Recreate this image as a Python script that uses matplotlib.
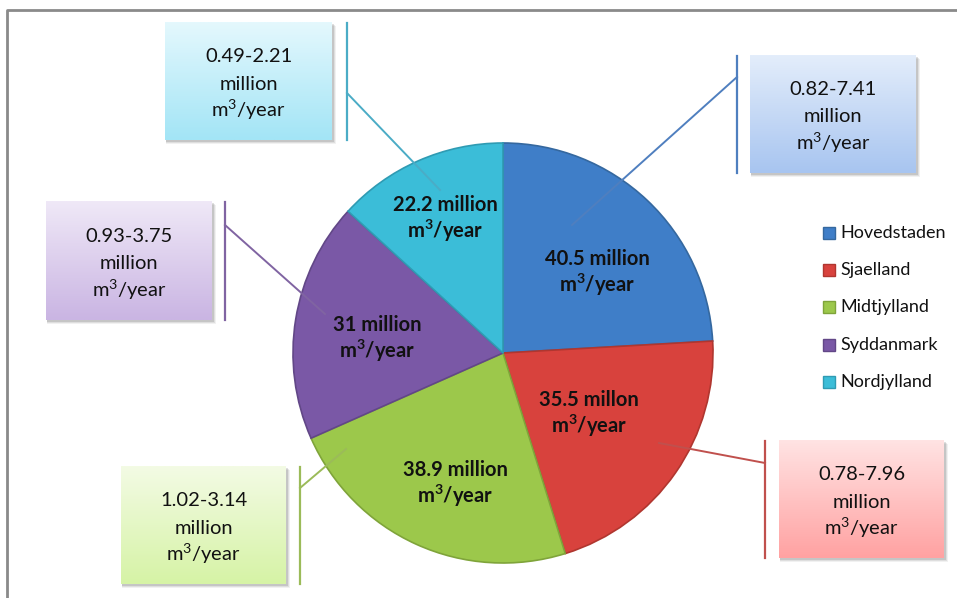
import matplotlib.pyplot as plt
import numpy as np
from matplotlib.colors import LinearSegmentedColormap
from matplotlib.patches import Rectangle

plt.rcParams["font.family"] = ["Lato", "DejaVu Sans"]
plt.rcParams["mathtext.fontset"] = "custom"
plt.rcParams["mathtext.rm"] = "Lato"
plt.rcParams["mathtext.bf"] = "Lato:bold"

# annual volume per region, million m3/year
regions = ["Hovedstaden", "Sjaelland", "Midtjylland", "Syddanmark", "Nordjylland"]
volumes = [40.5, 35.5, 38.9, 31, 22.2]
unit_words = ["million", "millon", "million", "million", "million"]
ranges = ["0.82-7.41", "0.78-7.96", "1.02-3.14", "0.93-3.75", "0.49-2.21"]

slice_colors = ["#3f7ec8", "#d8423d", "#9cc84b", "#7a58a6", "#3bbdd8"]
edge_colors = ["#35689f", "#b0362f", "#7fa43a", "#624787", "#2f9bb3"]
line_colors = ["#4f7fbf", "#c0504d", "#9bbb59", "#8064a2", "#4bacc6"]
box_top = ["#e3edfb", "#ffe3e3", "#f3fbe4", "#efe8f7", "#e4f8fd"]
box_bottom = ["#a8c5f0", "#ffa2a2", "#d6f3a6", "#cab5e3", "#a3e5f6"]

# layout in pixel units (y grows downward)
W, H = 957, 598
center = (503, 353)
radius = 210
inner_pos = [(597, 272), (589, 413), (455, 483), (377, 338), (445, 218)]
boxes = [(750, 55, 916, 173), (779, 440, 944, 558), (121, 466, 286, 584),
         (46, 201, 212, 320), (165, 22, 332, 140)]
bar_x = [737, 765, 300, 225, 347]
leader_from = [(737, 77), (765, 463), (300, 488), (225, 225), (347, 93)]
leader_to = [(572, 225), (659, 443), (346, 449), (325, 314), (440, 190)]
legend_y = [233, 270, 307, 345, 382]


def stacked(ax, x, y_baselines, lines, **kw):
    # one text per line so the superscript line keeps the same spacing
    for yb, s in zip(y_baselines, lines):
        ax.text(x, yb, s, ha="center", va="baseline", **kw)


fig = plt.figure(figsize=(W / 100, H / 100), dpi=100)
ax = fig.add_axes([0, 0, 1, 1])

# pie: with the inverted y axis, start at -90 counterclockwise reads as top/clockwise
wedges, _ = ax.pie(volumes, colors=slice_colors, center=center, radius=radius,
                   startangle=-90, counterclock=True,
                   wedgeprops=dict(linewidth=1.2, zorder=2))
for w, ec in zip(wedges, edge_colors):
    w.set_edgecolor(ec)

for (x, y), v, word in zip(inner_pos, volumes, unit_words):
    stacked(ax, x, [y - 7, y + 20], [f"{v:g} {word}", r"m$^{\mathbf{3}}$/year"],
            fontsize=14.5, fontweight="bold", color="#111111", zorder=5)

# callout boxes with gradient fill and soft shadow
for i, (x0, y0, x1, y1) in enumerate(boxes):
    for k, a in zip((5, 4, 3), (0.08, 0.12, 0.18)):
        ax.add_patch(Rectangle((x0 + 1, y0 + k - 1), x1 - x0 + k - 2, y1 - y0,
                               facecolor="#555555", edgecolor="none", alpha=a, zorder=3))
    cmap = LinearSegmentedColormap.from_list("g", [box_top[i], box_bottom[i]])
    grad = np.linspace(0, 1, 64).reshape(-1, 1)
    ax.imshow(grad, cmap=cmap, extent=(x0, x1, y1, y0), origin="upper",
              aspect="auto", zorder=4)
    yc = (y0 + y1) / 2
    stacked(ax, (x0 + x1) / 2, [yc - 19, yc + 8.5, yc + 36],
            [ranges[i], "million", r"m$^3$/year"],
            fontsize=14.5, color="#111111", zorder=5)
    ax.plot([bar_x[i], bar_x[i]], [y0 + 1, y1], color=line_colors[i], lw=1.6, zorder=4)
    (fx, fy), (tx, ty) = leader_from[i], leader_to[i]
    ax.plot([fx, tx], [fy, ty], color=line_colors[i], lw=1.4, zorder=4)

# legend
for name, c, ec, y in zip(regions, slice_colors, edge_colors, legend_y):
    ax.add_patch(Rectangle((823, y - 6), 12, 12, facecolor=c, edgecolor=ec,
                           lw=1, zorder=4))
    ax.text(840, y, name, ha="left", va="center", fontsize=13, color="#111111")

# chart frame
ax.plot([7, 7, W], [H, 10, 10], color="#8a8a8a", lw=2, zorder=1)

ax.set_xlim(0, W)
ax.set_ylim(H, 0)
ax.set_aspect("auto")
ax.axis("off")
fig.savefig("out.png", dpi=100)
